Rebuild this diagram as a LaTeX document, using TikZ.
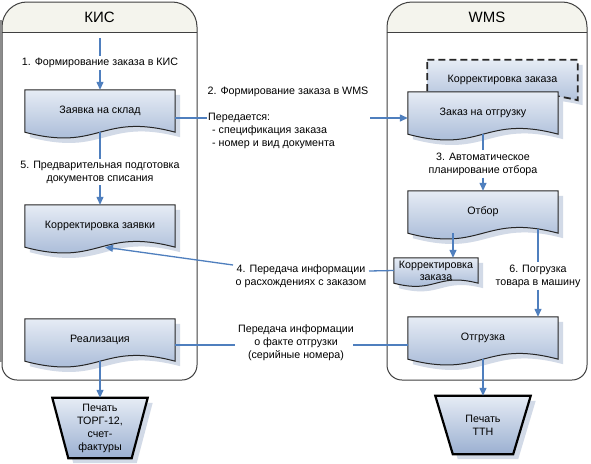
\documentclass[tikz,border=0pt]{standalone}
\usepackage{fontspec}
\setmainfont{Liberation Sans}
\usetikzlibrary{positioning,calc,arrows.meta}
\definecolor{flowblue}{RGB}{79,127,190}
\definecolor{doctop}{RGB}{230,236,245}
\definecolor{docbottom}{RGB}{155,176,209}
\definecolor{docshade}{RGB}{210,218,231}
\definecolor{headfill}{RGB}{244,244,237}
\pgfdeclarelayer{background}
\pgfsetlayers{background,main}

% document shape (shadow + wavy bottom) behind a node
\newcommand{\docback}[3][]{%
  \begin{pgfonlayer}{background}
    \fill[docshade] ($(#2.north west)+(5,5)$) -- ($(#2.north east)+(5,5)$) -- ($(#2.south east)+(5,5)$)
      .. controls ($(#2.south)+(5,5-#3)$) and ($(#2.south)+(5,5+#3)$) .. ($(#2.south west)+(5,5)$) -- cycle;
    \draw[docline,#1] (#2.north west) -- (#2.north east) -- (#2.south east)
      .. controls ($(#2.south)+(0,-#3)$) and ($(#2.south)+(0,#3)$) .. (#2.south west) -- cycle;
  \end{pgfonlayer}}
% manual operation (trapezoid) behind a node
\newcommand{\trapback}[2]{%
  \begin{pgfonlayer}{background}
    \fill[docshade] ($(#1.north west)+(5,5)$) -- ($(#1.north east)+(5,5)$) -- ($(#1.south east)+(5-#2,5)$) -- ($(#1.south west)+(5+#2,5)$) -- cycle;
    \draw[trapline] (#1.north west) -- (#1.north east) -- ($(#1.south east)+(-#2,0)$) -- ($(#1.south west)+(#2,0)$) -- cycle;
  \end{pgfonlayer}}

\begin{document}
\begin{tikzpicture}[x=1pt,y=-1pt,on grid,
  font=\fontsize{10.7}{13}\selectfont,
  doc/.style={rectangle,minimum width=150pt,minimum height=42pt,inner sep=1pt,align=center},
  trap/.style={rectangle,minimum width=95pt,minimum height=60pt,inner sep=0pt,align=center},
  docline/.style={draw=black!85,line width=1pt,top color=doctop,bottom color=docbottom},
  trapline/.style={draw=black,line width=2.2pt,top color=doctop,bottom color=docbottom},
  lane/.style={draw=black!75,line width=1pt},
  flow/.style={draw=flowblue,line width=1.3pt},
  flowarr/.style={flow,-{Triangle[length=8pt,width=7pt]}},
  lbl/.style={align=center,inner sep=2pt},
  header/.style={font=\fontsize{15}{18}\selectfont}]
  \useasboundingbox (0,0) rectangle (591,463);
  % swimlanes
  \begin{pgfonlayer}{background}
    \fill[white] (0,0) rectangle (591,463);
    \foreach \xa/\xb in {2/197, 387/587} {
      \filldraw[lane,fill=headfill,rounded corners=25pt] (\xa,32) -- (\xa,2) -- (\xb,2) -- (\xb,32);
      \filldraw[lane,fill=white,rounded corners=15pt] (\xa,32) -- (\xa,380) -- (\xb,380) -- (\xb,32);
      \draw[lane] (\xa,32) -- (\xb,32);
    }
    \draw[black!45,line width=2pt] (1,20) -- (1,362);
  \end{pgfonlayer}
  \node[header] (kis) at (99.5,17) {КИС};
  \node[header] (wms) at (487,17) {WMS};

  % KIS
  \node[doc] (zayavka) at (100,111) {Заявка на склад};
  \node[doc] (korrzayavki) [below=115pt of zayavka] {Корректировка заявки};
  \node[doc] (realizaciya) [below=114pt of korrzayavki] {Реализация};
  \node[trap] (torg) [below=88pt of realizaciya] {Печать\\ТОРГ-12,\\счет-\\фактуры};

  % WMS
  \node[doc] (zakaz) at (483,113) {Заказ на отгрузку};
  \node[doc,minimum height=40pt] (korrzakaza) [above right=33pt and 19.5pt of zakaz] {Корректировка заказа};
  \node[doc] (otbor) [below=99pt of zakaz] {Отбор};
  \node[doc,minimum width=84pt,minimum height=25pt,font=\fontsize{10.7}{12}\selectfont] (korrsmall) [below left=58.5pt and 47pt of otbor] {Корректировка\\заказа};
  \node[doc] (otgruzka) [below=126pt of otbor] {Отгрузка};
  \node[trap,minimum height=58pt] (ttn) [below=87pt of otgruzka] {Печать\\ТТН};

  \docback[dashed,line width=1.8pt,dash pattern=on 7pt off 4pt]{korrzakaza}{18}
  \foreach \d in {zayavka,korrzayavki,realizaciya,zakaz,otbor,otgruzka} {\docback{\d}{20}}
  \docback{korrsmall}{11}
  \trapback{torg}{16}
  \trapback{ttn}{17.5}

  % labels
  \node[lbl] (lab1) [above=48pt of zayavka] {1. Формирование заказа в КИС};
  \node[lbl] (lab5) [below=61pt of zayavka] {5. Предварительная подготовка\\документов списания};
  \node[lbl] (lab2) at (288,92) {2. Формирование заказа в WMS};
  \node[lbl,anchor=north west,align=left] (lab2b) at (206,111) {Передается:\\\hspace*{4pt}- спецификация заказа\\\hspace*{4pt}- номер и вид документа};
  \node[lbl] (lab3) [below=51pt of zakaz] {3. Автоматическое\\планирование отбора};
  \node[lbl] (lab4) at (301,276) {4. Передача информации\\о расхождениях с заказом};
  \node[lbl] (lab6) at (538,276) {6. Погрузка\\товара в машину};
  \node[lbl] (labfact) at (296,343) {Передача информации\\о факте отгрузки\\(серийные номера)};

  % connectors
  \coordinate (s1) at (100,38);
  \draw[flow] (s1) -- (lab1);
  \draw[flowarr] (lab1) -- (zayavka);
  \draw[flow] (zayavka) -- (lab5);
  \draw[flowarr] (lab5) -- (korrzayavki);
  \draw[flowarr] (realizaciya) -- (torg);
  \coordinate (c2a) at (207,118);
  \coordinate (c2b) at (370,118);
  \draw[flow] (zayavka.east |- c2a) -- (c2a);
  \draw[flowarr] (c2b) -- (zakaz.west |- c2b);
  \draw[flow] (zakaz) -- (lab3);
  \draw[flowarr] (lab3) -- (otbor);
  \draw[flowarr] ($(otbor.south)+(-30,0)$) -- ($(korrsmall.north)+(17,0)$);
  \draw[flow] ($(otbor.south -| lab6)+(0,-4)$) -- (lab6);
  \draw[flowarr] (lab6) -- (otgruzka.north -| lab6);
  \coordinate (c4a) at (233,265);
  \coordinate (c4b) at (369,271);
  \draw[flow] (korrsmall.west) -- (c4b);
  \draw[flowarr] (c4a) -- ($(korrzayavki.south)+(5,0)$);
  \coordinate (c7a) at (235,345);
  \coordinate (c7b) at (353,345);
  \draw[flow] (realizaciya.east |- c7a) -- (c7a);
  \draw[flow] (c7b) -- (otgruzka.west |- c7b);
  \draw[flowarr] (otgruzka) -- (ttn);
\end{tikzpicture}
\end{document}
